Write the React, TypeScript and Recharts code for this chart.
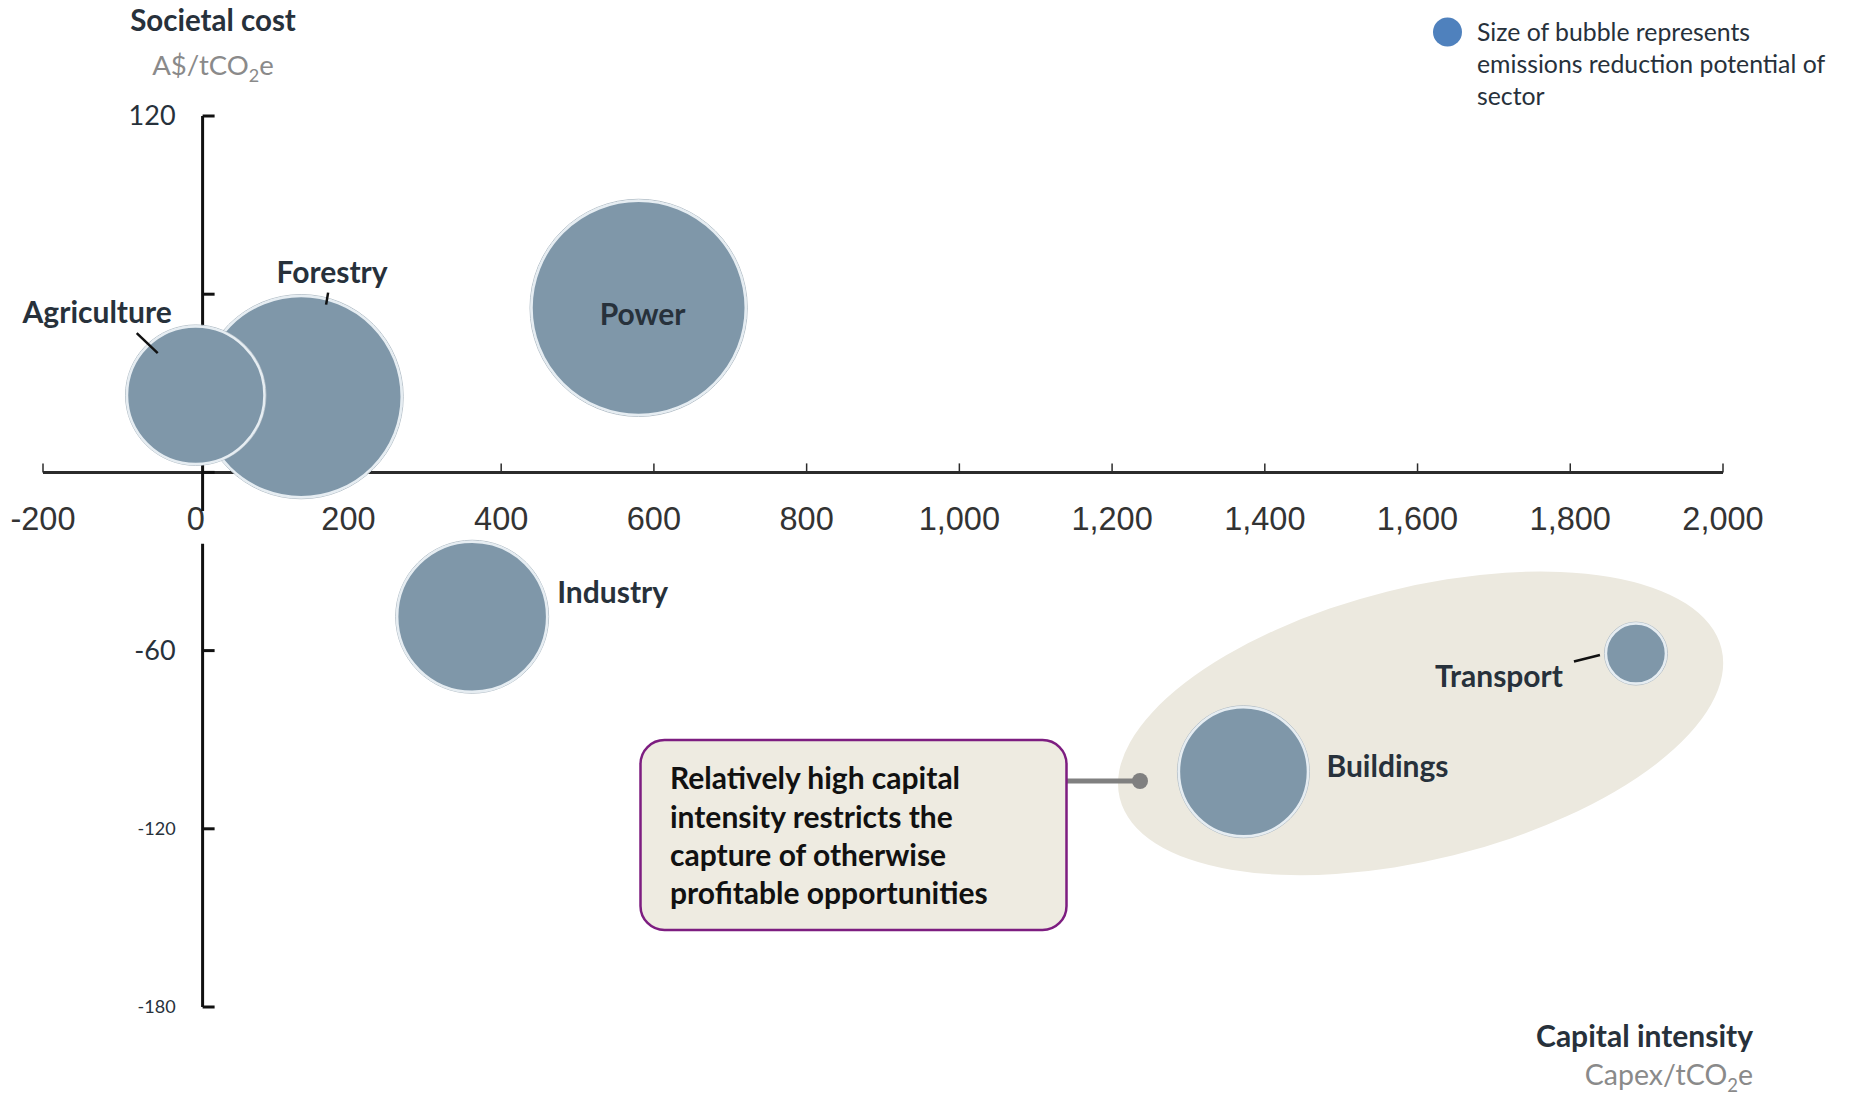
import React from 'react';
import { ScatterChart, Scatter, XAxis, YAxis, ZAxis } from 'recharts';

// sectors, drawn in this order (Agriculture sits on top of Forestry)
const sectors = ['Forestry', 'Agriculture', 'Power', 'Industry', 'Buildings', 'Transport'];
const capitalIntensity = [138, 0, 580, 362, 1372, 1886]; // Capex/tCO2e
const societalCost = [25.5, 26, 55.4, -48.6, -100.8, -61]; // A$/tCO2e
const reductionPotential = [45, 21, 51, 25, 18.5, 4]; // bubble size

const xTicks = [-200, 0, 200, 400, 600, 800, 1000, 1200, 1400, 1600, 1800, 2000];
const yTicks = [120, 60, 0, -60, -120, -180];
const yTickLabels = ['120', '', '', '-60', '-120', '-180'];

// highlight ellipse around Buildings / Transport (data coords)
const highlightX = 1604;
const highlightY = -84.5;

const W = 1849;
const H = 1095;
const Y_AXIS_AT = 9; // y axis sits just right of zero
const Y_GAP: [number, number] = [-13, -24]; // axis broken behind the x labels

const FONT = 'Lato, "Open Sans", sans-serif';
const DARK = '#27313b';
const GREY = '#8a8a8a';

const bubbles = sectors.map((name, i) => ({
  name,
  x: capitalIntensity[i],
  y: societalCost[i],
  z: reductionPotential[i],
}));
const xTickData = xTicks.map((v) => ({ x: v, y: 0 }));
const yTickData = yTicks.map((v, i) => ({ x: Y_AXIS_AT, y: v, label: yTickLabels[i] }));

// label placement relative to bubble centre
const labelPos: Record<string, any> = {
  Agriculture: { dx: -24, dy: -72, anchor: 'end', leader: [-59, -62, -38, -42] },
  Forestry: { dx: 31, dy: -114, anchor: 'middle', leader: [27, -104, 25, -92] },
  Power: { dx: 4, dy: 17, anchor: 'middle' },
  Industry: { dx: 85, dy: -14, anchor: 'start' },
  Buildings: { dx: 83, dy: 5, anchor: 'start' },
  Transport: { dx: -73, dy: 33, anchor: 'end', leader: [-62, 8, -36, 1.5] },
};

const Bubble = (props: any) => {
  const { cx, cy, width, payload } = props;
  const r = width / 2;
  const l = labelPos[payload.name];
  return (
    <g>
      <circle cx={cx} cy={cy} r={r + 1.5} fill="none" stroke="#b4bfc8" strokeWidth={1} />
      <circle cx={cx} cy={cy} r={r} fill="#7f97a9" stroke="#e6edf2" strokeWidth={2.5} />
      {l.leader && (
        <line
          x1={cx + l.leader[0]}
          y1={cy + l.leader[1]}
          x2={cx + l.leader[2]}
          y2={cy + l.leader[3]}
          stroke="#111"
          strokeWidth={2.5}
        />
      )}
      <text
        x={cx + l.dx}
        y={cy + l.dy}
        textAnchor={l.anchor}
        fontFamily={FONT}
        fontWeight={700}
        fontSize={30}
        fill={DARK}
      >
        {payload.name}
      </text>
    </g>
  );
};

const XTick = (props: any) => {
  const { cx, cy, payload } = props;
  return (
    <g>
      {payload.x !== 0 && <line x1={cx} y1={cy} x2={cx} y2={cy - 9} stroke="#2b2b2b" strokeWidth={1.5} />}
      <text
        x={cx}
        y={cy + 58}
        textAnchor="middle"
        fontFamily='"Liberation Sans", Arial, sans-serif'
        fontSize={32.5}
        fill="#333"
      >
        {payload.x.toLocaleString('en-US')}
      </text>
    </g>
  );
};

const YTick = (props: any) => {
  const { cx, cy, payload } = props;
  const big = payload.label === '120' || payload.label === '-60';
  return (
    <g>
      <line x1={cx} y1={cy} x2={cx + 12} y2={cy} stroke="#111" strokeWidth={3} />
      {payload.label && (
        <text
          x={cx - 27}
          y={cy}
          dy="0.35em"
          textAnchor="end"
          fontFamily={FONT}
          fontSize={big ? 27 : 18}
          fill={DARK}
        >
          {payload.label}
        </text>
      )}
    </g>
  );
};

const Highlight = (props: any) => {
  const { cx, cy } = props;
  return (
    <ellipse
      cx={cx}
      cy={cy}
      rx={310}
      ry={136}
      transform={`rotate(-14 ${cx} ${cy})`}
      fill="#ece9df"
    />
  );
};

const Nothing = () => <g />;

export default function App() {
  return (
    <div style={{ position: 'absolute', left: 0, top: 0, width: W, height: H, background: '#fff' }}>
      <ScatterChart width={W} height={H} margin={{ top: 116, right: 126, bottom: 88, left: 43 }}>
        <XAxis type="number" dataKey="x" domain={[-200, 2000]} hide />
        <YAxis type="number" dataKey="y" domain={[-180, 120]} hide />
        <ZAxis type="number" dataKey="z" domain={[0, 51]} range={[0, Math.PI * 225 * 51]} />

        <Scatter data={[{ x: highlightX, y: highlightY }]} shape={Highlight} isAnimationActive={false} />

        {/* x axis: line through the ticks at y = 0 */}
        <Scatter
          data={xTickData}
          shape={XTick}
          line={{ stroke: '#2b2b2b', strokeWidth: 3 }}
          isAnimationActive={false}
        />
        {/* y axis, broken behind the x tick labels */}
        <Scatter
          data={[{ x: Y_AXIS_AT, y: 120 }, { x: Y_AXIS_AT, y: Y_GAP[0] }]}
          shape={Nothing}
          line={{ stroke: '#111', strokeWidth: 3 }}
          isAnimationActive={false}
        />
        <Scatter
          data={[{ x: Y_AXIS_AT, y: Y_GAP[1] }, { x: Y_AXIS_AT, y: -180 }]}
          shape={Nothing}
          line={{ stroke: '#111', strokeWidth: 3 }}
          isAnimationActive={false}
        />
        <Scatter data={yTickData} shape={YTick} isAnimationActive={false} />

        <Scatter data={bubbles} shape={Bubble} isAnimationActive={false} />
      </ScatterChart>

      <svg
        width={W}
        height={H}
        style={{ position: 'absolute', left: 0, top: 0, pointerEvents: 'none' }}
      >
        <text x={213} y={31} textAnchor="middle" fontFamily={FONT} fontWeight={700} fontSize={29.5} fill={DARK}>
          Societal cost
        </text>
        <text x={213} y={75} textAnchor="middle" fontFamily={FONT} fontSize={27.5} fill={GREY}>
          A$/tCO<tspan dy={7} fontSize={18}>2</tspan>
          <tspan dy={-7}>e</tspan>
        </text>

        <circle cx={1447.5} cy={32} r={14.5} fill="#4f81bd" />
        <g fontFamily={FONT} fontSize={24.8} fill={DARK}>
          <text x={1477} y={41}>Size of bubble represents</text>
          <text x={1477} y={73}>emissions reduction potential of</text>
          <text x={1477} y={105}>sector</text>
        </g>

        <text x={1753} y={1047} textAnchor="end" fontFamily={FONT} fontWeight={700} fontSize={30} fill={DARK}>
          Capital intensity
        </text>
        <text x={1753} y={1085} textAnchor="end" fontFamily={FONT} fontSize={28.5} fill={GREY}>
          Capex/tCO<tspan dy={7} fontSize={18.5}>2</tspan>
          <tspan dy={-7}>e</tspan>
        </text>

        <line x1={1066} y1={781} x2={1140} y2={781} stroke="#808080" strokeWidth={5} />
        <circle cx={1140} cy={781} r={8} fill="#808080" />
        <rect x={640.5} y={740} width={426} height={190} rx={24} fill="#eeebe1" stroke="#7d1d80" strokeWidth={2.5} />
        <g fontFamily={FONT} fontWeight={700} fontSize={30} fill="#111">
          <text x={670} y={789}>Relatively high capital</text>
          <text x={670} y={828}>intensity restricts the</text>
          <text x={670} y={866}>capture of otherwise</text>
          <text x={670} y={904}>profitable opportunities</text>
        </g>
      </svg>
    </div>
  );
}
